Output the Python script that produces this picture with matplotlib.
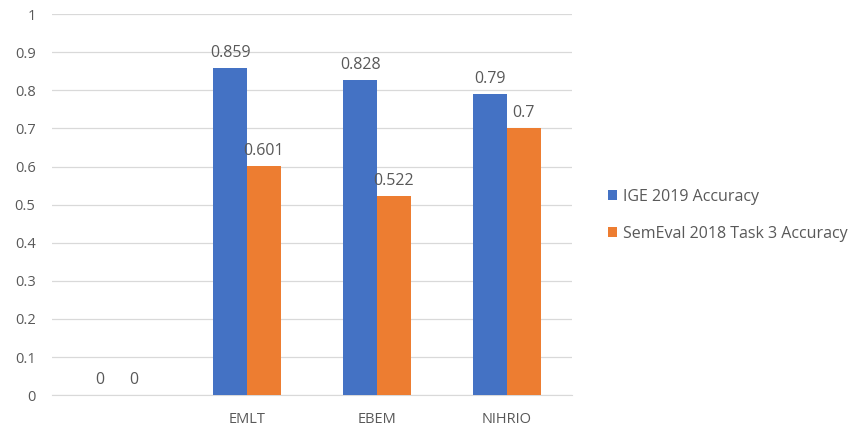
import matplotlib.pyplot as plt
import numpy as np

plt.rcParams['font.family'] = ['Open Sans', 'DejaVu Sans']

categories = ['', 'EMLT', 'EBEM', 'NIHRIO']
ige_acc = [0, 0.859, 0.828, 0.79]
semeval_acc = [0, 0.601, 0.522, 0.7]
ige_labels = ['0', '0.859', '0.828', '0.79']
semeval_labels = ['0', '0.601', '0.522', '0.7']

text_col = '#595959'
blue = '#4472C4'
orange = '#ED7D31'

fig = plt.figure(figsize=(8.56, 4.29), dpi=100)
ax = fig.add_axes([0.061, 0.079, 0.607, 0.888])

x = np.arange(len(categories))
w = 0.26
b1 = ax.bar(x - w / 2, ige_acc, w, color=blue, label='IGE 2019 Accuracy', zorder=3)
b2 = ax.bar(x + w / 2, semeval_acc, w, color=orange, label='SemEval 2018 Task 3 Accuracy', zorder=3)

for bars, labels in ((b1, ige_labels), (b2, semeval_labels)):
    for bar, lab in zip(bars, labels):
        ax.annotate(lab, (bar.get_x() + bar.get_width() / 2, bar.get_height()),
                    xytext=(0, 5), textcoords='offset points',
                    ha='center', va='bottom', fontsize=11.5, color=text_col)

ax.set_xlim(-0.5, len(categories) - 0.5)
ax.set_ylim(0, 1)
ax.set_yticks(np.arange(0, 1.01, 0.1))
ax.set_yticklabels(['0', '0.1', '0.2', '0.3', '0.4', '0.5', '0.6', '0.7', '0.8', '0.9', '1'])
ax.set_xticks(x)
ax.set_xticklabels(categories)
ax.tick_params(axis='both', length=0, colors=text_col, labelsize=10.5)
ax.tick_params(axis='y', pad=12)
ax.tick_params(axis='x', pad=12)
ax.grid(axis='y', color='#D9D9D9', linewidth=0.9, zorder=0)
for s in ['top', 'right', 'left']:
    ax.spines[s].set_visible(False)
ax.spines['bottom'].set_color('#D9D9D9')

fig.legend(loc='center left', bbox_to_anchor=(0.693, 0.498), frameon=False,
           fontsize=11.5, labelcolor=text_col, handlelength=0.6, handleheight=0.6,
           handletextpad=0.35, labelspacing=1.3)

fig.savefig('out.png', dpi=100)
